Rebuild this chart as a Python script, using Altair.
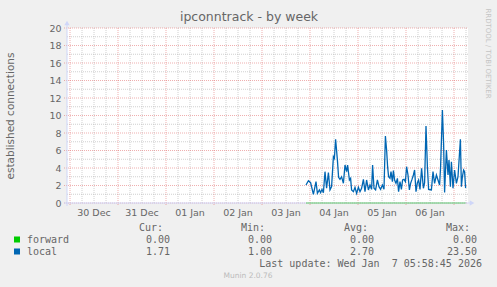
import altair as alt
import pandas as pd

# ---- data (hours relative to 2026-01-04 00:00 UTC) ----
local_hours = [
    -2.0, -0.8, 0.3, 1.7, 3.0, 3.7, 4.7, 5.3, 6.0, 6.7,
    7.5, 8.3, 9.2, 10.0, 10.8, 11.7, 12.2, 12.8, 13.7, 14.3,
    15.0, 15.8, 16.7, 17.5, 18.3, 18.8, 19.7, 20.3, 20.8, 21.7,
    22.5, 23.3, 24.2, 25.0, 25.8, 26.7, 27.5, 28.3, 29.2, 30.0,
    30.8, 31.3, 32.0, 32.8, 33.7, 34.5, 35.3, 36.2, 37.0, 37.7,
    38.3, 38.8, 39.3, 40.0, 40.5, 41.2, 41.7, 42.3, 43.0, 43.7,
    44.3, 45.0, 45.7, 46.3, 47.0, 47.7, 48.3, 49.0, 49.7, 50.3,
    51.0, 51.7, 52.3, 53.0, 53.7, 54.3, 55.0, 55.8, 56.7, 57.3,
    58.0, 58.7, 59.3, 60.7, 61.5, 62.3, 63.2, 64.0, 64.8, 65.3,
    66.2, 66.8, 67.3, 68.2, 69.0, 69.5, 70.2, 70.7, 71.5, 72.3,
    73.2, 74.0, 75.2, 75.7, 76.2, 76.8, 77.3, 77.8,
]
local_values = [
    2.06, 2.55, 2.32, 0.99, 2.44, 1.10, 1.49, 1.18, 1.56, 1.18,
    3.58, 1.68, 3.47, 1.49, 1.87, 5.30, 5.10, 7.28, 4.90, 2.93,
    2.70, 3.00, 2.25, 4.34, 3.58, 4.34, 2.63, 2.82, 1.49, 1.30,
    1.79, 1.10, 1.79, 1.30, 1.68, 2.70, 1.30, 2.63, 1.49, 2.06,
    1.56, 4.34, 1.68, 1.49, 2.63, 1.87, 1.56, 2.06, 1.56, 7.66,
    6.06, 4.15, 3.00, 2.82, 3.58, 2.44, 3.70, 2.63, 2.25, 2.82,
    1.30, 2.44, 1.56, 2.63, 2.70, 2.44, 4.15, 3.20, 1.49, 2.25,
    2.70, 3.20, 3.77, 1.30, 2.32, 2.63, 1.56, 3.96, 1.68, 2.32,
    8.80, 4.15, 1.56, 1.49, 3.58, 2.25, 3.20, 2.63, 2.06, 4.15,
    10.63, 6.80, 1.20, 6.06, 3.20, 4.90, 1.87, 4.72, 1.68, 3.77,
    2.25, 3.00, 7.28, 1.87, 3.00, 3.77, 3.58, 1.71,
]
forward_values = [0.0] * len(local_hours)

day_starts = ["2025-12-30", "2025-12-31", "2026-01-01", "2026-01-02", "2026-01-03",
              "2026-01-04", "2026-01-05", "2026-01-06", "2026-01-07"]
day_labels = ["30 Dec", "31 Dec", "01 Jan", "02 Jan", "03 Jan", "04 Jan", "05 Jan", "06 Jan"]
y_major = [0, 2, 4, 6, 8, 10, 12, 14, 16, 18, 20]
y_minor = [1, 3, 5, 7, 9, 11, 13, 15, 17, 19]

legend_names = ["forward", "local"]
legend_colors = ["#00cc00", "#0066b3"]
legend_heads = ["Cur:", "Min:", "Avg:", "Max:"]
legend_cur = ["0.00", "1.71"]
legend_min = ["0.00", "1.00"]
legend_avg = ["0.00", "2.70"]
legend_max = ["0.00", "23.50"]

title_text = "ipconntrack - by week"
ytitle_text = "established connections"
update_text = "Last update: Wed Jan \u00a07 05:58:45 2026"
munin_text = "Munin 2.0.76"
rrd_text = "RRDTOOL / TOBI OETIKER"

# ---- tables ----
base = pd.Timestamp("2026-01-04T00:00:00")
def iso(ts):
    return ts.strftime("%Y-%m-%dT%H:%M:%SZ")

df_local = pd.DataFrame({"t": [iso(base + pd.Timedelta(hours=h)) for h in local_hours],
                         "v": local_values})
df_forward = pd.DataFrame({"t": [iso(base + pd.Timedelta(hours=h)) for h in local_hours],
                           "v": forward_values})
df_major_x = pd.DataFrame({"t": [d + "T00:00:00Z" for d in day_starts]})
minor_t = []
for d in day_starts:
    for hh in (6, 12, 18):
        ts = pd.Timestamp(d) + pd.Timedelta(hours=hh)
        if ts <= pd.Timestamp("2026-01-07T06:00:00"):
            minor_t.append(iso(ts))
df_minor_x = pd.DataFrame({"t": minor_t})
df_labels = pd.DataFrame({"t": [d + "T12:00:00Z" for d in day_starts[:-1]], "lab": day_labels})
df_major_y = pd.DataFrame({"v": y_major})
df_minor_y = pd.DataFrame({"v": y_minor})
one = pd.DataFrame({"k": [0]})

W, H = 401, 175
X0, Y0 = 67, 28
FONT = "DejaVu Sans"
MONO = "DejaVu Sans Mono"
FC = "#666666"

xscale = alt.Scale(type="utc", domain=[
    alt.DateTime(year=2025, month=12, date=29, hours=22, minutes=30, utc=True),
    alt.DateTime(year=2026, month=1, date=7, hours=7, utc=True)])
yscale = alt.Scale(domain=[0, 20], nice=False, zero=True)
yaxis = alt.Axis(values=y_major, labelFont=FONT, labelFontSize=9.5, labelColor=FC,
                 ticks=False, domain=False, grid=False, labelPadding=6,
                 labelOverlap=False, labelBound=False, labelFlush=False, format="d",
                 title=ytitle_text, titleFont=FONT, titleFontSize=10.5, titleColor=FC,
                 titleFontWeight="normal", titleAngle=270, titleX=-57, titleY=H / 2,
                 titleAlign="center", titleBaseline="middle")

X = alt.X("t:T", scale=xscale, axis=None)
Y = alt.Y("v:Q", scale=yscale, axis=yaxis)

minor_v = alt.Chart(df_minor_x).mark_rule(color="#b0b0b0", strokeDash=[1, 1], strokeWidth=1, opacity=0.6).encode(
    x=X, y=alt.value(0), y2=alt.value(H))
minor_h = alt.Chart(df_minor_y).mark_rule(color="#b0b0b0", strokeDash=[1, 1], strokeWidth=1, opacity=0.6).encode(
    y=Y, x=alt.value(0), x2=alt.value(W))
major_v = alt.Chart(df_major_x).mark_rule(color="#e06060", strokeDash=[1, 1], strokeWidth=1, opacity=0.5).encode(
    x=X, y=alt.value(0), y2=alt.value(H + 3))
major_h = alt.Chart(df_major_y).mark_rule(color="#e06060", strokeDash=[1, 1], strokeWidth=1, opacity=0.5).encode(
    y=Y, x=alt.value(-3), x2=alt.value(W))

xaxis_line = alt.Chart(one).mark_rule(color="#cfd6f8", strokeWidth=1).encode(
    x=alt.value(-3), x2=alt.value(W + 2), y=alt.value(H))
yaxis_line = alt.Chart(one).mark_rule(color="#cfd6f8", strokeWidth=1).encode(
    x=alt.value(0), y=alt.value(-3), y2=alt.value(H + 3))

xlabels = alt.Chart(df_labels).mark_text(font=FONT, fontSize=9.5, color=FC, baseline="middle", align="center").encode(
    x=X, y=alt.value(H + 10), text="lab:N")

line_forward = alt.Chart(df_forward).mark_line(color="#00cc00", strokeWidth=1, opacity=0.55).encode(
    x=X, y=Y)
line_local = alt.Chart(df_local).mark_line(color="#0066b3", strokeWidth=1.3).encode(
    x=X, y=Y)

arrow_up = alt.Chart(one).mark_point(shape="triangle-up", filled=True, color="#cfd6f8", size=28, opacity=1).encode(
    x=alt.value(0), y=alt.value(-5))
arrow_right = alt.Chart(one).mark_point(shape="triangle-right", filled=True, color="#cfd6f8", size=28, opacity=1).encode(
    x=alt.value(W + 4), y=alt.value(H))

def txt(s, x, y, font=MONO, size=10, align="left", color=FC, angle=0, baseline="middle"):
    return alt.Chart(one).mark_text(font=font, fontSize=size, align=align, baseline=baseline,
                                    color=color, angle=angle).encode(
        x=alt.value(x - X0), y=alt.value(y - Y0), text=alt.value(s))

texts = [
    txt(title_text, 249, 17, font=FONT, size=12.5, align="center"),
    txt(rrd_text, 488, 53.5, font=FONT, size=7, align="center", color="#c4c4c4", angle=90),
    txt(update_text, 482, 263.5, align="right"),
    txt(munin_text, 248, 276, font=FONT, size=7.5, align="center", color="#bbbbbb"),
]
head_x = [163, 265, 368, 470]
val_x = [170, 272, 374, 477]
for hx, h in zip(head_x, legend_heads):
    texts.append(txt(h, hx, 228, align="right"))
row_y = [240, 252]
cols = [legend_cur, legend_min, legend_avg, legend_max]
squares = []
for i, name in enumerate(legend_names):
    texts.append(txt(name, 27, row_y[i]))
    for vx, col in zip(val_x, cols):
        texts.append(txt(col[i], vx, row_y[i], align="right"))
    squares.append(alt.Chart(one).mark_point(shape="square", filled=True, color=legend_colors[i],
                                             size=36, opacity=1).encode(
        x=alt.value(17 - X0), y=alt.value(row_y[i] - 0.5 - Y0)))

chart = alt.layer(
    minor_v, minor_h, major_v, major_h, xaxis_line, yaxis_line, xlabels,
    line_forward, line_local, arrow_up, arrow_right, *squares, *texts
).properties(
    width=W, height=H,
    padding={"left": X0, "top": Y0, "right": 497 - X0 - W, "bottom": 287 - Y0 - H},
    autosize=alt.AutoSizeParams(type="none"),
    background="#f0f0f0",
).configure_view(stroke=None, fill="white")

chart.save("out.html", embed_options={"renderer": "svg", "actions": False})
